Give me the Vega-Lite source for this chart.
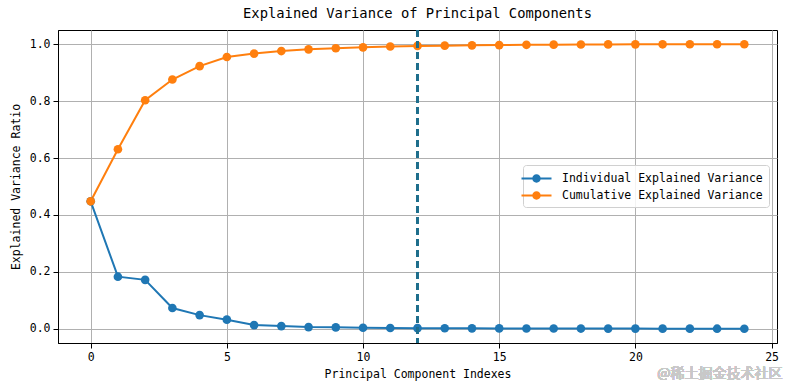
{
  "$schema": "https://vega.github.io/schema/vega-lite/v6.json",
  "width": 719,
  "height": 313,
  "autosize": {"type": "none"},
  "padding": {"left": 58, "top": 30, "right": 12, "bottom": 47},
  "background": "white",
  "config": {
    "font": "DejaVu Sans Mono",
    "view": {"stroke": "black", "strokeWidth": 1},
    "axis": {
      "domainColor": "black", "domainWidth": 1,
      "tickColor": "black", "tickSize": 5, "tickWidth": 1,
      "labelFont": "DejaVu Sans Mono", "labelFontSize": 11.5, "labelColor": "black",
      "titleFont": "DejaVu Sans Mono", "titleFontSize": 11.5, "titleFontWeight": "normal", "titleColor": "black",
      "gridColor": "#b0b0b0", "gridWidth": 1, "gridOpacity": 1
    }
  },
  "title": {
    "text": "Explained Variance of Principal Components",
    "font": "DejaVu Sans Mono", "fontSize": 13.8, "fontWeight": "normal", "color": "black",
    "offset": 8, "anchor": "middle"
  },
  "data": {
    "values": [
      {"pc": 0, "individual": 0.448, "cumulative": 0.448},
      {"pc": 1, "individual": 0.183, "cumulative": 0.631},
      {"pc": 2, "individual": 0.172, "cumulative": 0.803},
      {"pc": 3, "individual": 0.073, "cumulative": 0.876},
      {"pc": 4, "individual": 0.048, "cumulative": 0.923},
      {"pc": 5, "individual": 0.032, "cumulative": 0.955},
      {"pc": 6, "individual": 0.013, "cumulative": 0.967},
      {"pc": 7, "individual": 0.0095, "cumulative": 0.976},
      {"pc": 8, "individual": 0.006, "cumulative": 0.982},
      {"pc": 9, "individual": 0.005, "cumulative": 0.986},
      {"pc": 10, "individual": 0.0035, "cumulative": 0.989},
      {"pc": 11, "individual": 0.0028, "cumulative": 0.992},
      {"pc": 12, "individual": 0.0022, "cumulative": 0.994},
      {"pc": 13, "individual": 0.0018, "cumulative": 0.995},
      {"pc": 14, "individual": 0.0015, "cumulative": 0.996},
      {"pc": 15, "individual": 0.0013, "cumulative": 0.997},
      {"pc": 16, "individual": 0.0011, "cumulative": 0.998},
      {"pc": 17, "individual": 0.0009, "cumulative": 0.9985},
      {"pc": 18, "individual": 0.0008, "cumulative": 0.999},
      {"pc": 19, "individual": 0.0007, "cumulative": 0.9993},
      {"pc": 20, "individual": 0.0006, "cumulative": 0.9995},
      {"pc": 21, "individual": 0.0005, "cumulative": 0.9997},
      {"pc": 22, "individual": 0.0004, "cumulative": 0.9998},
      {"pc": 23, "individual": 0.0003, "cumulative": 0.9999},
      {"pc": 24, "individual": 0.0002, "cumulative": 1.0}
    ]
  },
  "layer": [
    {
      "transform": [
        {"fold": ["individual", "cumulative"], "as": ["series", "value"]},
        {"calculate": "datum.series == 'individual' ? 'Individual Explained Variance' : 'Cumulative Explained Variance'", "as": "label"}
      ],
      "mark": {"type": "line", "strokeWidth": 2, "point": {"filled": true, "size": 75, "opacity": 1}},
      "encoding": {
        "x": {
          "field": "pc", "type": "quantitative",
          "scale": {"domain": [-1.2, 25.2], "nice": false, "zero": false},
          "axis": {"values": [0, 5, 10, 15, 20, 25], "title": "Principal Component Indexes", "titlePadding": 6, "labelPadding": 3}
        },
        "y": {
          "field": "value", "type": "quantitative",
          "scale": {"domain": [-0.05, 1.05], "nice": false, "zero": false},
          "axis": {"values": [0, 0.2, 0.4, 0.6, 0.8, 1.0], "format": ".1f", "title": "Explained Variance Ratio", "titlePadding": 8, "labelPadding": 3}
        },
        "color": {
          "field": "label", "type": "nominal",
          "scale": {"domain": ["Individual Explained Variance", "Cumulative Explained Variance"], "range": ["#1f77b4", "#ff7f0e"]},
          "legend": {
            "title": null,
            "orient": "none", "legendX": 465, "legendY": 135,
            "direction": "vertical",
            "fillColor": "rgba(255,255,255,0.85)",
            "strokeColor": "#d0d0d0",
            "cornerRadius": 3,
            "padding": 6,
            "labelFont": "DejaVu Sans Mono", "labelFontSize": 11.5, "labelColor": "black",
            "labelLimit": 400,
            "symbolType": "M -0.56 0 A 0.56 0.56 0 1 1 0.56 0 A 0.56 0.56 0 1 1 -0.56 0 Z M -2 -0.13 L 2 -0.13 L 2 0.13 L -2 0.13 Z",
            "symbolSize": 225,
            "symbolStrokeWidth": 0,
            "symbolOpacity": 1,
            "rowPadding": 4,
            "labelOffset": 18
          }
        },
        "order": {"field": "pc", "type": "quantitative"}
      }
    },
    {
      "mark": {"type": "rule", "strokeDash": [7, 4], "strokeWidth": 1.6, "color": "#1f6e8c"},
      "encoding": {"x": {"datum": 12, "type": "quantitative"}}
    },
    {
      "mark": {"type": "text", "align": "right", "baseline": "middle", "fontSize": 14, "font": "Noto Sans CJK SC", "color": "#c8c8c8", "clip": false},
      "encoding": {
        "x": {"datum": 25.4, "type": "quantitative"},
        "y": {"datum": -0.16, "type": "quantitative"},
        "text": {"value": "@稀土掘金技术社区"}
      }
    }
  ]
}
